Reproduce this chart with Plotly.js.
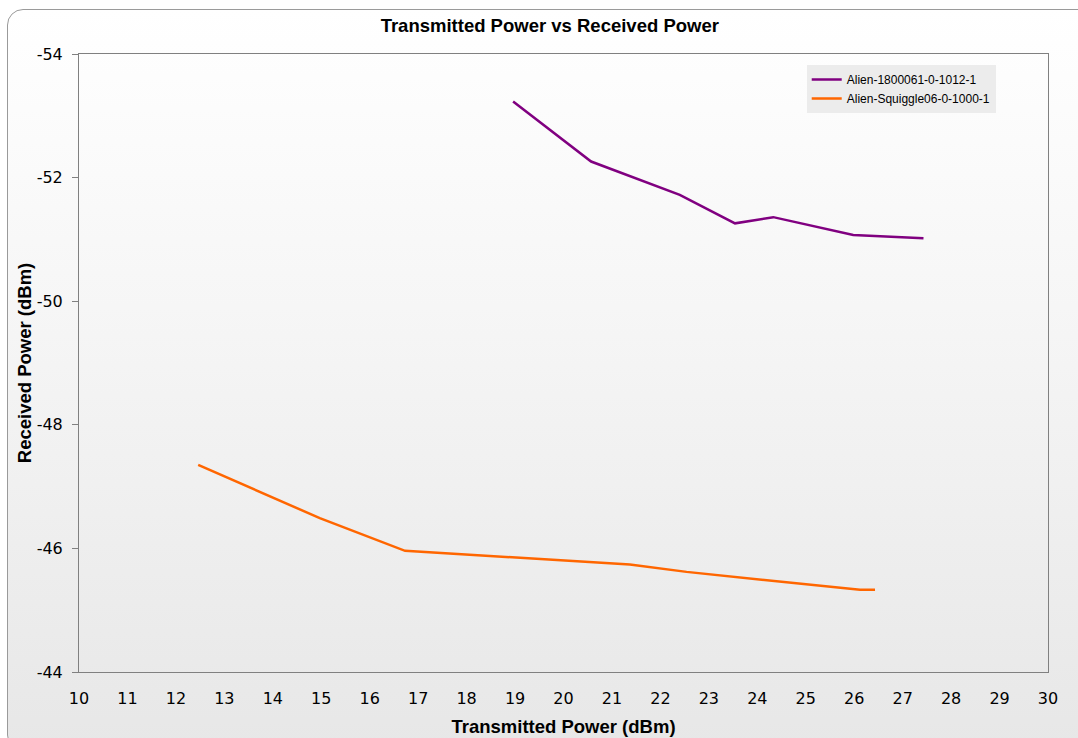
<!DOCTYPE html>
<html>
<head>
<meta charset="utf-8">
<script src="https://cdn.plot.ly/plotly-3.0.1.min.js"></script>
<style>
  html, body { margin: 0; padding: 0; background: #ffffff; }
  #wrap { position: absolute; left: 0; top: 0; width: 1078px; height: 738px; overflow: hidden; background: #ffffff; }
  #frame { position: absolute; left: 7px; top: 9px; width: 1090px; height: 740px; border: 1px solid #9a9a9a; border-radius: 16px;
           background: linear-gradient(to bottom, #ffffff 0%, #f6f6f6 40%, #e7e7e7 100%); }
  #chart { position: absolute; left: 0; top: 0; width: 1078px; height: 738px; }
</style>
</head>
<body>
<div id="wrap">
  <div id="frame"></div>
  <div id="chart"></div>
</div>
<script>
// Series 1: Alien-1800061-0-1012-1
const txPowerA = [18.96, 20.57, 22.40, 23.54, 24.33, 25.98, 27.43];
const rxPowerA = [-53.23, -52.26, -51.72, -51.26, -51.36, -51.07, -51.02];
// Series 2: Alien-Squiggle06-0-1000-1
const txPowerB = [12.46, 14.97, 16.73, 21.37, 22.54, 26.12, 26.43];
const rxPowerB = [-47.35, -46.49, -45.96, -45.74, -45.62, -45.33, -45.33];
const seriesNames = ['Alien-1800061-0-1012-1', 'Alien-Squiggle06-0-1000-1'];
const xTicks = [10,11,12,13,14,15,16,17,18,19,20,21,22,23,24,25,26,27,28,29,30];
const yTicks = [-54, -52, -50, -48, -46, -44];

const traces = [
  { x: txPowerA, y: rxPowerA, name: seriesNames[0], type: 'scatter', mode: 'lines',
    line: { color: '#800080', width: 2.5 } },
  { x: txPowerB, y: rxPowerB, name: seriesNames[1], type: 'scatter', mode: 'lines',
    line: { color: '#ff6600', width: 2.5 } }
];

const tickFont = { family: 'DejaVu Sans, Verdana, sans-serif', size: 16, color: '#000000' };
const boldFont = { family: 'Liberation Sans, Arial, sans-serif', size: 18.5, color: '#000000', weight: 'bold' };

const layout = {
  width: 1078, height: 738,
  paper_bgcolor: 'rgba(0,0,0,0)',
  plot_bgcolor: 'rgba(0,0,0,0)',
  margin: { l: 79, r: 30, t: 54, b: 66 },
  title: { text: '<b>Transmitted Power vs Received Power</b>', font: boldFont, x: 0.51, xanchor: 'center', y: 0.965, yanchor: 'middle' },
  xaxis: {
    range: [10, 30], tickvals: xTicks, ticktext: xTicks.map(String),
    showgrid: false, zeroline: false, showline: true, linecolor: '#808080', linewidth: 1, mirror: true,
    ticks: '', tickfont: tickFont, ticklabelstandoff: 12,
    title: { text: '<b>Transmitted Power (dBm)</b>', font: boldFont, standoff: 12 }
  },
  yaxis: {
    range: [-44, -54], tickvals: yTicks, ticktext: yTicks.map(String),
    showgrid: false, zeroline: false, showline: true, linecolor: '#808080', linewidth: 1, mirror: true,
    ticks: 'outside', ticklen: 6, tickcolor: '#808080', tickfont: tickFont, ticklabelstandoff: 6,
    title: { text: '<b>Received Power (dBm)</b>', font: boldFont, standoff: 0 }
  },
  showlegend: true,
  legend: {
    x: 0.751, y: 0.982, xanchor: 'left', yanchor: 'top',
    bgcolor: '#ececec', borderwidth: 0,
    font: { family: 'Liberation Sans, Arial, sans-serif', size: 12, color: '#000000' },
    itemwidth: 30, tracegroupgap: 0
  }
};

Plotly.newPlot('chart', traces, layout, { displayModeBar: false, staticPlot: true });
</script>
</body>
</html>
